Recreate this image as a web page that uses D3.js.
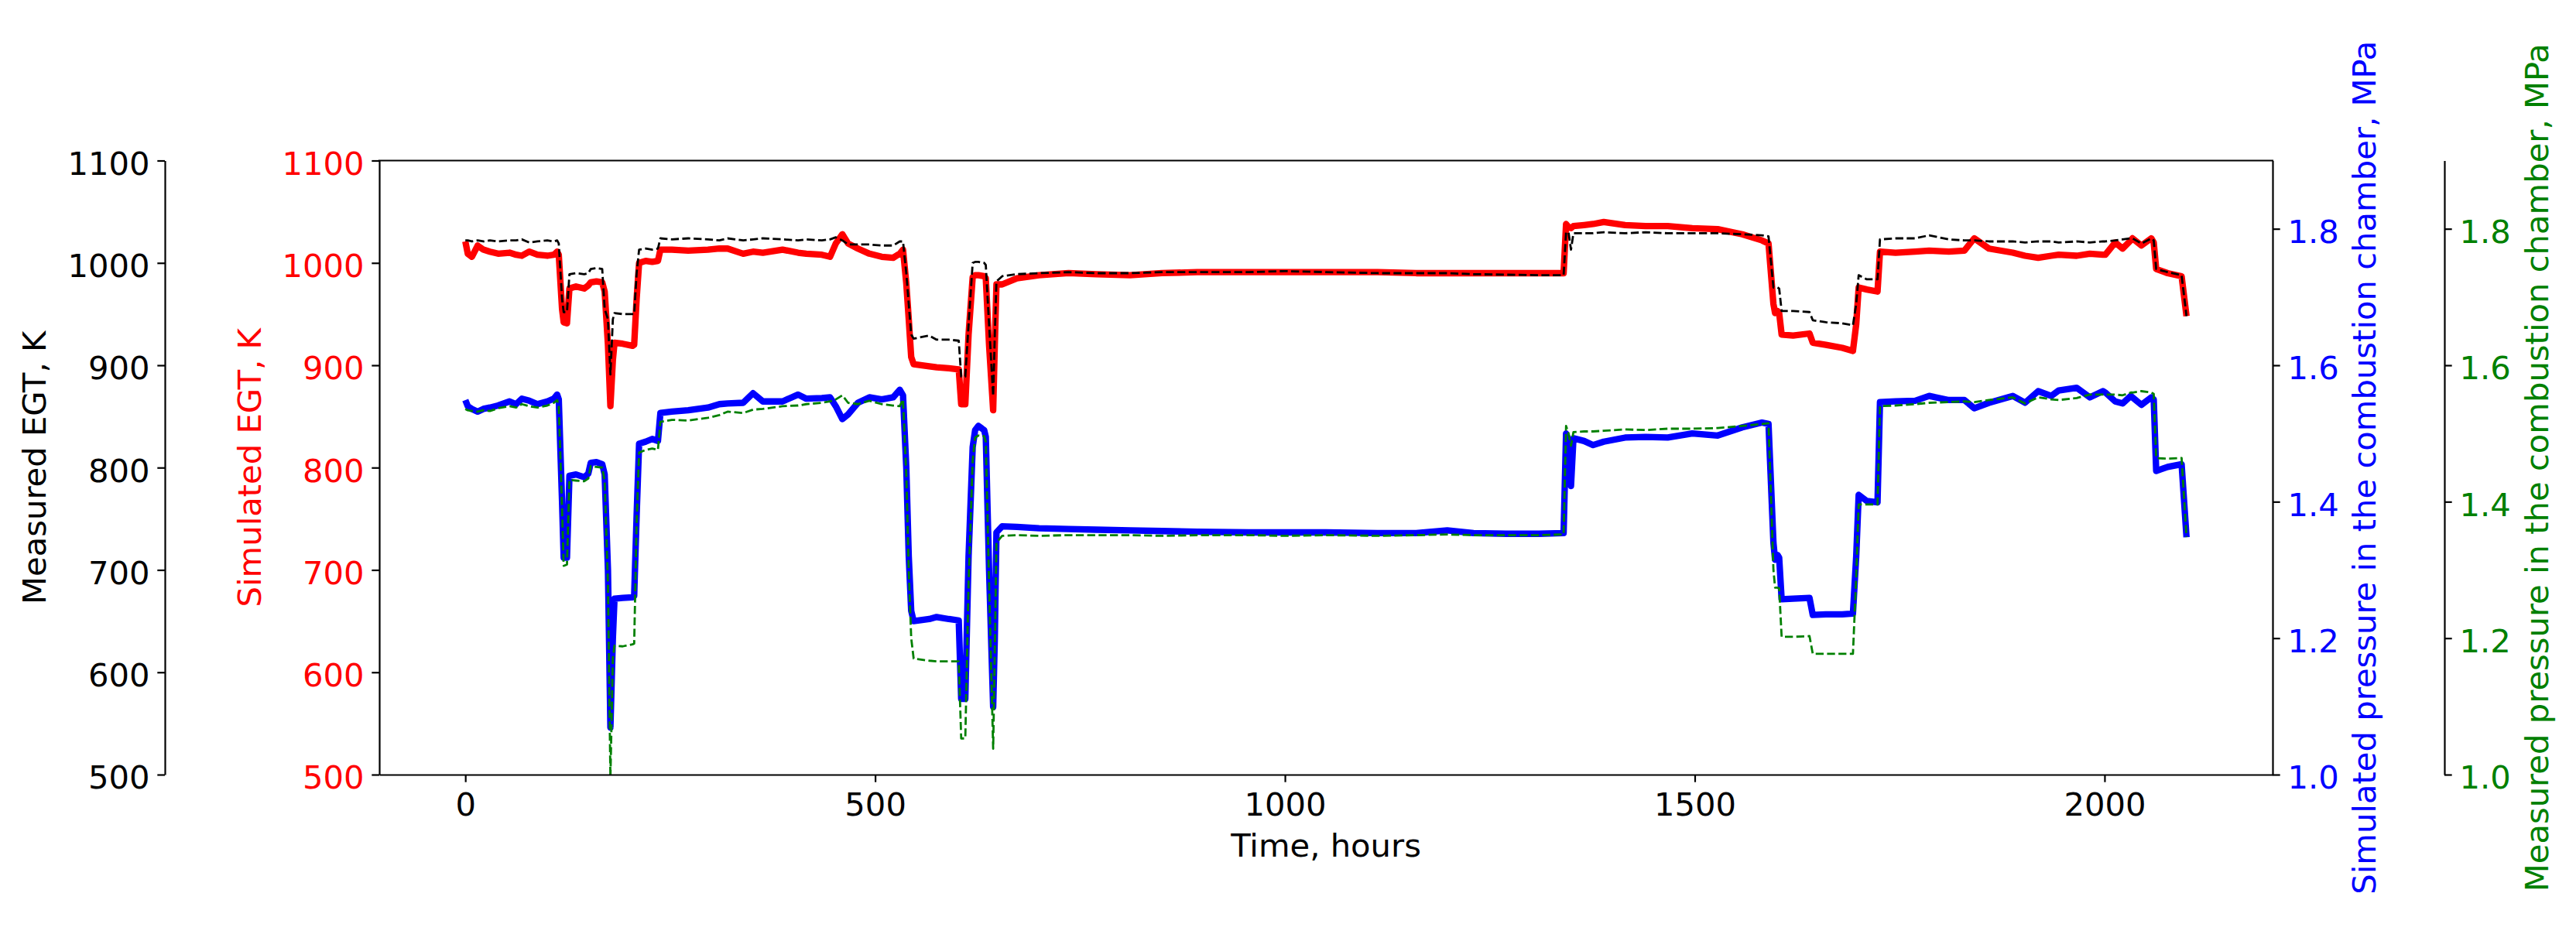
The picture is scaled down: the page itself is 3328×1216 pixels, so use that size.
<!DOCTYPE html>
<html><head><meta charset="utf-8">
<script src="https://cdn.jsdelivr.net/npm/d3@7"></script>
<style>
html,body{margin:0;padding:0;background:#fff;}
svg{display:block;font-family:"DejaVu Sans",sans-serif;}
</style></head><body>
<svg id="chart" width="3328" height="1216"></svg>
<script>
// ---- data ----
const hours = [
  0,3,8,15,22,30,40,54,62,69,
  78,88,100,108,112,114,118,120,124,127,
  135,145,150,153,160,167,170,174,177,180,
  182,192,204,206,209,212,220,228,235,238,
  252,272,296,310,320,339,351,363,387,406,
  416,435,445,452,460,467,479,493,508,522,
  530,534,538,541,544,547,566,575,590,602,
  605,610,614,619,622,626,633,635,639,644,
  646,648,655,673,700,736,770,811,850,893,
  956,1000,1050,1113,1160,1198,1230,1270,1310,1340,
  1343,1346,1349,1352,1365,1376,1389,1415,1440,1467,
  1497,1528,1558,1582,1590,1596,1598,1601,1603,1606,
  1620,1640,1644,1660,1680,1693,1697,1700,1710,1723,
  1726,1745,1769,1786,1810,1829,1841,1859,1888,1903,
  1919,1935,1944,1966,1982,1998,2001,2013,2022,2032,
  2034,2045,2057,2060,2063,2077,2094,2100
];
const simulatedEGT = [
  1021,1009,1006,1017,1013,1011,1009,1010,1008,1007,
  1011,1008,1007,1008,1011,1008,955,942,941,975,
  977,975,978,981,982,981,972,920,860,905,
  922,921,919,920,965,1000,1002,1001,1002,1013,
  1013,1012,1013,1014,1014,1009,1011,1010,1013,1010,
  1009,1008,1006,1019,1028,1019,1014,1009,1006,1005,
  1009,1013,980,945,908,901,899,898,897,896,
  862,862,930,986,988,988,987,985,920,856,
  920,979,979,985,988,990,989,988,990,991,
  991,991,991,991,990,990,990,990,990,990,
  1038,1035,1034,1036,1037,1038,1040,1037,1036,1036,
  1034,1033,1028,1022,1019,960,951,953,951,930,
  929,931,922,920,917,914,940,976,974,972,
  1011,1010,1011,1012,1011,1012,1024,1014,1010,1007,
  1005,1007,1008,1007,1009,1008,1008,1020,1014,1022,
  1024,1017,1024,1020,994,990,987,948
];
const measuredEGT = [
  1022,1022,1021,1022,1021,1022,1021,1022,1022,1023,
  1020,1021,1022,1021,1022,1019,965,952,952,989,
  990,989,990,994,995,994,955,945,891,945,
  951,950,950,950,990,1013,1014,1013,1014,1024,
  1023,1024,1023,1022,1024,1022,1023,1024,1023,1022,
  1023,1022,1023,1025,1022,1018,1018,1018,1017,1017,
  1021,1021,990,960,930,926,929,925,925,924,
  889,889,940,1000,1001,1001,1000,998,940,870,
  930,982,987,989,990,991,990,990,991,991,
  991,992,991,990,990,990,989,988.5,988,988,
  1030,1030,1013,1029,1029,1029,1030,1029,1030,1029,
  1029,1029,1028,1027,1026,976,976,976,975,953,
  953,952,944,942,941,939,960,988,984,984,
  1023,1024,1024,1027,1023,1022,1022,1021,1021,1020,
  1021,1021,1020,1021,1020,1021,1021,1022,1023,1024,
  1024,1019,1024,1022,994,991,988,948
];
const simulatedPressure = [
  1.549,1.540,1.536,1.532,1.536,1.538,1.541,1.547,1.543,1.551,
  1.548,1.543,1.547,1.551,1.557,1.550,1.400,1.318,1.318,1.438,
  1.440,1.436,1.441,1.457,1.458,1.455,1.440,1.300,1.069,1.200,
  1.258,1.259,1.260,1.262,1.380,1.485,1.488,1.492,1.489,1.530,
  1.532,1.534,1.538,1.543,1.544,1.545,1.559,1.547,1.547,1.557,
  1.551,1.552,1.553,1.540,1.521,1.528,1.545,1.553,1.550,1.553,
  1.564,1.556,1.450,1.320,1.240,1.225,1.228,1.231,1.228,1.226,
  1.111,1.111,1.320,1.480,1.505,1.511,1.505,1.495,1.300,1.099,
  1.200,1.355,1.364,1.363,1.361,1.360,1.359,1.358,1.357,1.356,
  1.355,1.355,1.355,1.354,1.354,1.358,1.354,1.353,1.353,1.354,
  1.500,1.490,1.423,1.493,1.489,1.483,1.488,1.494,1.495,1.494,
  1.500,1.497,1.509,1.516,1.514,1.340,1.315,1.322,1.318,1.257,
  1.258,1.259,1.234,1.235,1.235,1.236,1.320,1.410,1.401,1.399,
  1.546,1.547,1.548,1.555,1.549,1.549,1.537,1.545,1.555,1.545,
  1.562,1.555,1.563,1.567,1.553,1.562,1.560,1.547,1.544,1.555,
  1.553,1.542,1.553,1.550,1.445,1.451,1.455,1.348
];
const measuredPressure = [
  1.536,1.534,1.533,1.532,1.534,1.533,1.537,1.540,1.538,1.543,
  1.540,1.538,1.541,1.545,1.549,1.540,1.390,1.306,1.308,1.432,
  1.431,1.430,1.434,1.452,1.451,1.450,1.430,1.280,0.995,1.170,
  1.189,1.188,1.191,1.192,1.370,1.472,1.476,1.478,1.476,1.517,
  1.520,1.519,1.523,1.527,1.532,1.530,1.535,1.536,1.540,1.541,
  1.543,1.545,1.547,1.550,1.556,1.545,1.543,1.548,1.543,1.541,
  1.540,1.550,1.440,1.300,1.200,1.170,1.167,1.166,1.166,1.166,
  1.053,1.053,1.280,1.460,1.494,1.497,1.496,1.488,1.280,1.038,
  1.180,1.340,1.350,1.351,1.350,1.351,1.351,1.351,1.350,1.351,
  1.351,1.350,1.351,1.350,1.351,1.352,1.351,1.351,1.351,1.352,
  1.511,1.500,1.482,1.502,1.503,1.503,1.504,1.506,1.505,1.507,
  1.507,1.508,1.511,1.514,1.515,1.300,1.274,1.274,1.273,1.202,
  1.202,1.203,1.177,1.177,1.177,1.177,1.290,1.396,1.396,1.396,
  1.540,1.541,1.543,1.545,1.546,1.547,1.546,1.549,1.553,1.544,
  1.553,1.550,1.549,1.552,1.557,1.557,1.557,1.557,1.556,1.560,
  1.560,1.562,1.560,1.558,1.464,1.463,1.464,1.348
];
const timeTicks = [0, 500, 1000, 1500, 2000];
const egtTicks = [500, 600, 700, 800, 900, 1000, 1100];
const pressureTicks = [1.0, 1.2, 1.4, 1.6, 1.8];

// ---- layout ----
const plot = {left: 490, right: 2936, top: 207.5, bottom: 1001};
const FS = 41.7, TICK = 9.7, PAD = 9.7, SW = 2.2;
const svg = d3.select('#chart');
svg.append('rect').attr('width', 3328).attr('height', 1216).attr('fill', '#fff');

const x = d3.scaleLinear().domain([-105, 2205]).range([plot.left, plot.right]);
const yEGT = d3.scaleLinear().domain([500, 1100]).range([plot.bottom, plot.top]);
const yP = d3.scaleLinear().domain([1.0, 1.9]).range([plot.bottom, plot.top]);

function styleAxis(g, color, vertical) {
  g.attr('font-size', null).attr('font-family', null);
  g.select('.domain').attr('stroke', '#000').attr('stroke-width', SW);
  g.selectAll('.tick line').attr('stroke', '#000').attr('stroke-width', SW);
  g.selectAll('.tick text').attr('fill', color).style('font-size', FS + 'px')
    .style('font-family', '"DejaVu Sans", sans-serif')
    .attr('dy', vertical ? '0.43em' : '0.8em');
}

// clip
svg.append('defs').append('clipPath').attr('id', 'clip')
  .append('rect').attr('x', plot.left).attr('y', plot.top)
  .attr('width', plot.right - plot.left).attr('height', plot.bottom - plot.top);

// lines
const pts = (vals) => hours.map((h, i) => [h, vals[i]]);
const lineE = d3.line().x(d => x(d[0])).y(d => yEGT(d[1]));
const lineP = d3.line().x(d => x(d[0])).y(d => yP(d[1]));
const lines = svg.append('g').attr('clip-path', 'url(#clip)').attr('fill', 'none')
  .attr('stroke-linejoin', 'round');
lines.append('path').attr('d', lineE(pts(simulatedEGT))).attr('stroke', '#ff0000').attr('stroke-width', 8.3);
lines.append('path').attr('d', lineE(pts(measuredEGT))).attr('stroke', '#000000').attr('stroke-width', 2.8).attr('stroke-dasharray', '10.3,4.4');
lines.append('path').attr('d', lineP(pts(simulatedPressure))).attr('stroke', '#0000ff').attr('stroke-width', 8.3);
lines.append('path').attr('d', lineP(pts(measuredPressure))).attr('stroke', '#008000').attr('stroke-width', 2.8).attr('stroke-dasharray', '10.3,4.4');

// top spine
svg.append('line').attr('x1', plot.left).attr('x2', plot.right).attr('y1', plot.top).attr('y2', plot.top)
  .attr('stroke', '#000').attr('stroke-width', SW).attr('stroke-linecap', 'square');

// bottom axis
const gx = svg.append('g').attr('transform', `translate(0,${plot.bottom})`)
  .call(d3.axisBottom(x).tickValues(timeTicks).tickFormat(d3.format('d')).tickSize(TICK).tickSizeOuter(0).tickPadding(PAD));
styleAxis(gx, '#000', false);

// red (simulated EGT) axis at plot left
const gr = svg.append('g').attr('transform', `translate(${plot.left},0)`)
  .call(d3.axisLeft(yEGT).tickValues(egtTicks).tickFormat(d3.format('d')).tickSize(TICK).tickSizeOuter(0).tickPadding(PAD));
styleAxis(gr, '#ff0000', true);

// black (measured EGT) offset axis
const gk = svg.append('g').attr('transform', `translate(213,0)`)
  .call(d3.axisLeft(yEGT).tickValues(egtTicks).tickFormat(d3.format('d')).tickSize(TICK).tickSizeOuter(0).tickPadding(PAD));
styleAxis(gk, '#000', true);

// blue (simulated pressure) at plot right
const gb = svg.append('g').attr('transform', `translate(${plot.right},0)`)
  .call(d3.axisRight(yP).tickValues(pressureTicks).tickFormat(d3.format('.1f')).tickSize(TICK).tickSizeOuter(0).tickPadding(PAD));
styleAxis(gb, '#0000ff', true);

// green (measured pressure) offset axis
const gg = svg.append('g').attr('transform', `translate(3158,0)`)
  .call(d3.axisRight(yP).tickValues(pressureTicks).tickFormat(d3.format('.1f')).tickSize(TICK).tickSizeOuter(0).tickPadding(PAD));
styleAxis(gg, '#008000', true);

// axis labels
const midY = (plot.top + plot.bottom) / 2;
function vlabel(xb, text, color) {
  svg.append('text').attr('transform', `translate(${xb},${midY}) rotate(-90)`)
    .attr('text-anchor', 'middle').attr('fill', color)
    .style('font-size', FS + 'px').text(text);
}
vlabel(58.5, 'Measured EGT, K', '#000');
vlabel(336.5, 'Simulated EGT, K', '#ff0000');
vlabel(3068.5, 'Simulated pressure in the combustion chamber, MPa', '#0000ff');
vlabel(3291.5, 'Measured pressure in the combustion chamber, MPa', '#008000');
svg.append('text').attr('x', (plot.left + plot.right) / 2).attr('y', 1107)
  .attr('text-anchor', 'middle').attr('fill', '#000').style('font-size', FS + 'px').text('Time, hours');
</script>
</body></html>
